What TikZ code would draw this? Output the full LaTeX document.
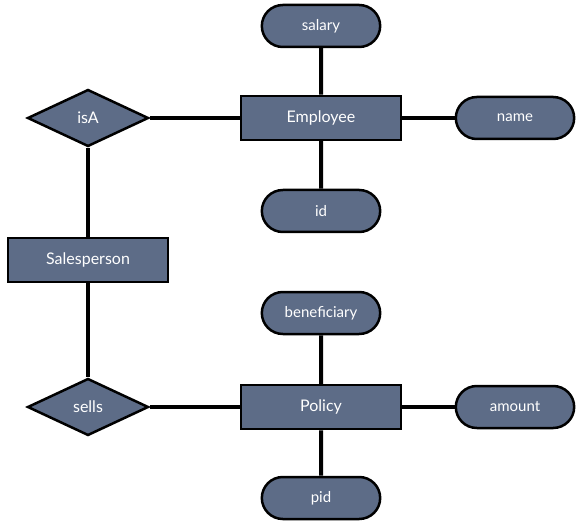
\documentclass[tikz,border=0pt]{standalone}
\usepackage{fontspec}
\setmainfont{Lato}
\usepackage{xcolor}
\usetikzlibrary{shapes, positioning, backgrounds}

\definecolor{slate}{HTML}{5D6C87}

\begin{document}
\begin{tikzpicture}[
    x=1pt, y=-1pt,
    entity/.style={rectangle, draw=black, line width=2.5pt, fill=slate, minimum width=160pt, minimum height=44pt, text=white, font=\fontsize{16}{19}\selectfont},
    attr/.style={rounded rectangle, draw=black, line width=2.5pt, fill=slate, minimum width=125pt, minimum height=42pt, text=white, font=\fontsize{15}{18}\selectfont},
    rel/.style={diamond, aspect=2.1, draw=black, line width=2.5pt, fill=slate, minimum width=121pt, minimum height=57pt, inner sep=0pt, text=white, font=\fontsize{16}{19}\selectfont},
    link/.style={line width=4pt, draw=black}
]
\useasboundingbox (0,0) rectangle (580,526);

% Employee and its attributes
\node[entity] (emp) at (321,118) {Employee};
\node[attr] (salary) at (321,26) {salary};
\node[attr] (name) at (515,118) {name};
\node[attr] (id) at (321,211) {id};

% isA and Salesperson
\node[rel] (isa) at (88,118) {isA};
\node[entity] (sales) at (88,260) {Salesperson};

% Policy and its attributes
\node[rel] (sells) at (88,407) {sells};
\node[entity] (policy) at (321,407) {Policy};
\node[attr] (benef) at (321,313) {beneficiary};
\node[attr] (amount) at (515,407) {amount};
\node[attr] (pid) at (321,498) {pid};

% connectors, behind the shapes
\begin{pgfonlayer}{background}
\draw[link] (emp) -- (salary);
\draw[link] (emp) -- (name);
\draw[link] (emp) -- (id);
\draw[link] (isa) -- (emp);
\draw[link] (isa) -- (sales);
\draw[link] (sales) -- (sells);
\draw[link] (sells) -- (policy);
\draw[link] (policy) -- (benef);
\draw[link] (policy) -- (amount);
\draw[link] (policy) -- (pid);
\end{pgfonlayer}

\end{tikzpicture}
\end{document}
